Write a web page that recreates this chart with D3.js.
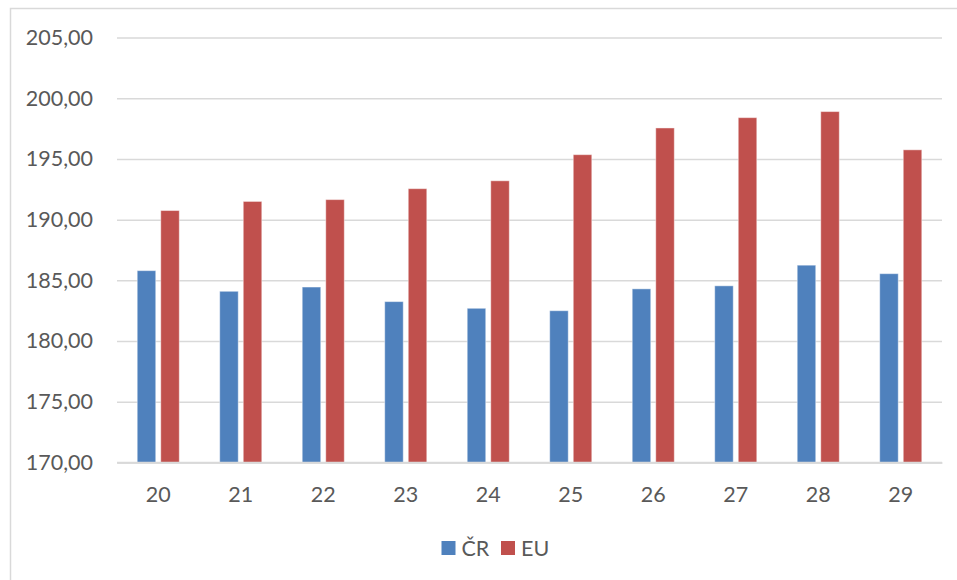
<!DOCTYPE html>
<html><head><meta charset="utf-8">
<script src="https://cdn.jsdelivr.net/npm/d3@7"></script>
<style>body{margin:0;background:#fff}svg{display:block;font-family:Lato,"Open Sans",sans-serif}</style>
</head><body><svg id="c" width="957" height="580"></svg>
<script>
const categories = ["20","21","22","23","24","25","26","27","28","29"];
const seriesNames = ["ČR","EU"];
const crValues = [185.8,184.1,184.45,183.25,182.7,182.5,184.3,184.55,186.25,185.55];
const euValues = [190.75,191.5,191.65,192.55,193.2,195.35,197.55,198.4,198.9,195.75];
const yTicks = [170,175,180,185,190,195,200,205];
const colors = ["#4f81bd","#c0504d"];

const svg = d3.select("#c");
svg.append("rect").attr("x",10.5).attr("y",8.5).attr("width",1000).attr("height",700)
  .attr("fill","none").attr("stroke","#d9d9d9").attr("stroke-width",1.5);

const L=117, R=942, T=37.5, B=462.5;
const y = d3.scaleLinear().domain([170,205]).range([B,T]);
const x0 = d3.scaleBand().domain(categories).range([L,R]).paddingInner(0.49).paddingOuter(0.245);
const x1 = d3.scaleBand().domain(seriesNames).range([0,x0.bandwidth()]).paddingInner(0.213);

const fmt = v => d3.format(".2f")(v).replace(".",",");
const yAxis = d3.axisLeft(y).tickValues(yTicks).tickSize(-(R-L)).tickFormat(fmt).tickPadding(24);
const gy = svg.append("g").attr("transform",`translate(${L},0)`).call(yAxis);
gy.select(".domain").remove();
gy.selectAll(".tick line").attr("stroke","#d9d9d9").attr("stroke-width",1.5);
gy.selectAll(".tick text").attr("fill","#595959").attr("font-size",21.5).attr("font-family","Lato");

const xAxis = d3.axisBottom(x0).tickSize(0).tickPadding(24);
const gx = svg.append("g").attr("transform",`translate(0,${B})`).call(xAxis);
gx.select(".domain").attr("stroke","#d9d9d9").attr("stroke-width",1.5);
gx.selectAll(".tick text").attr("fill","#595959").attr("font-size",21.5).attr("font-family","Lato");

const data = categories.map((c,i)=>({c, vals:[crValues[i],euValues[i]]}));
const g = svg.append("g");
data.forEach(d=>{
  d.vals.forEach((v,j)=>{
    g.append("rect")
      .attr("x",x0(d.c)+x1(seriesNames[j]))
      .attr("y",y(v))
      .attr("width",x1.bandwidth())
      .attr("height",B-y(v))
      .attr("fill",colors[j])
      .attr("stroke","rgba(255,255,255,0.45)").attr("stroke-width",1);
  });
});
svg.append("line").attr("x1",L).attr("x2",R).attr("y1",B).attr("y2",B).attr("stroke","#d9d9d9").attr("stroke-width",1.5);

const legend = svg.append("g");
const legX = [441.5,501];
seriesNames.forEach((n,j)=>{
  legend.append("rect").attr("x",legX[j]).attr("y",541).attr("width",14).attr("height",14).attr("fill",colors[j]);
  legend.append("text").attr("x",legX[j]+20).attr("y",555.5).attr("fill","#595959")
    .attr("font-size",21.5).attr("font-family","Lato").text(n);
});
</script></body></html>
